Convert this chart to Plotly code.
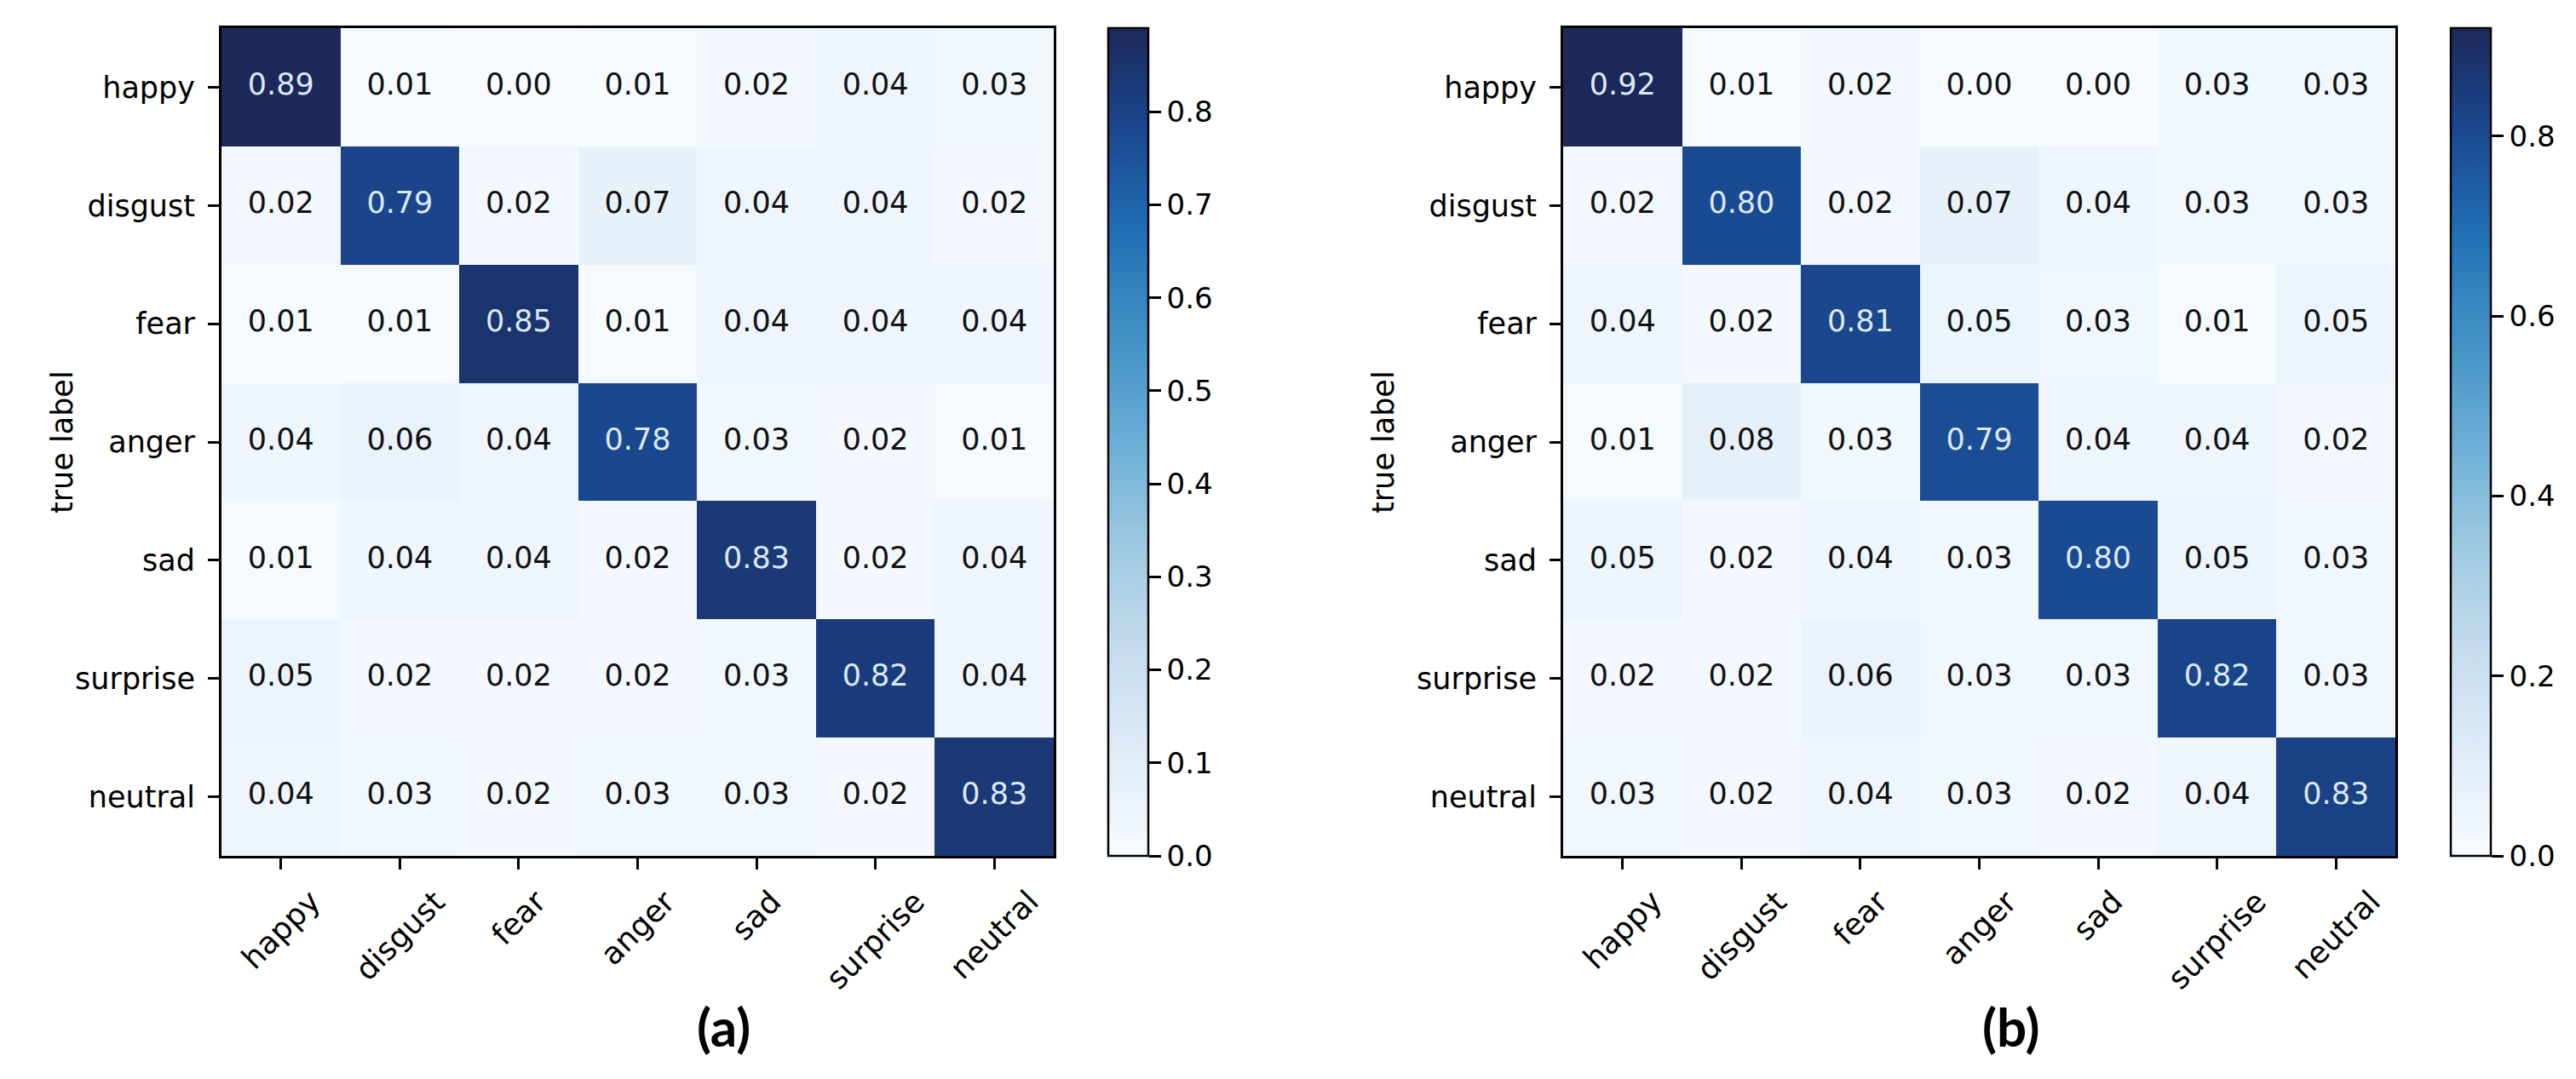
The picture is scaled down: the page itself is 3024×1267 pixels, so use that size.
import plotly.graph_objects as go

labels = ["happy", "disgust", "fear", "anger", "sad", "surprise", "neutral"]

cm_a = [
    [0.89, 0.01, 0.00, 0.01, 0.02, 0.04, 0.03],
    [0.02, 0.79, 0.02, 0.07, 0.04, 0.04, 0.02],
    [0.01, 0.01, 0.85, 0.01, 0.04, 0.04, 0.04],
    [0.04, 0.06, 0.04, 0.78, 0.03, 0.02, 0.01],
    [0.01, 0.04, 0.04, 0.02, 0.83, 0.02, 0.04],
    [0.05, 0.02, 0.02, 0.02, 0.03, 0.82, 0.04],
    [0.04, 0.03, 0.02, 0.03, 0.03, 0.02, 0.83],
]

cm_b = [
    [0.92, 0.01, 0.02, 0.00, 0.00, 0.03, 0.03],
    [0.02, 0.80, 0.02, 0.07, 0.04, 0.03, 0.03],
    [0.04, 0.02, 0.81, 0.05, 0.03, 0.01, 0.05],
    [0.01, 0.08, 0.03, 0.79, 0.04, 0.04, 0.02],
    [0.05, 0.02, 0.04, 0.03, 0.80, 0.05, 0.03],
    [0.02, 0.02, 0.06, 0.03, 0.03, 0.82, 0.03],
    [0.03, 0.02, 0.04, 0.03, 0.02, 0.04, 0.83],
]

panel_labels = ["(a)", "(b)"]
cbar_dticks = [0.1, 0.2]
ylabel = "true label"

W, H = 3024, 1267
FONT = "DejaVu Sans"
FS = 35

blues = [
    [0.0, "#f7fbff"],
    [0.125, "#deebf7"],
    [0.25, "#c6dbef"],
    [0.375, "#9ecae1"],
    [0.5, "#6baed6"],
    [0.625, "#4292c6"],
    [0.75, "#2171b5"],
    [0.875, "#1a4890"],
    [1.0, "#1c285a"],
]

# pixel layout (from top-left)
panels = [
    dict(x0=252, x1=1229, cb=1293, title_x=43, lab_x=808),
    dict(x0=1827, x1=2804, cb=2869, title_x=1616, lab_x=2388),
]
top_px, bot_px = 25, 997
ydom = [1 - bot_px / H, 1 - top_px / H]

fig = go.Figure()
annotations = []
n = len(labels)

for i, (cm, p) in enumerate(zip([cm_a, cm_b], panels)):
    k = "" if i == 0 else str(i + 1)
    xa, ya = "x" + k, "y" + k
    zmax = max(max(r) for r in cm)
    zmin = min(min(r) for r in cm)
    fig.add_trace(go.Heatmap(
        z=cm, x=list(range(n)), y=list(range(n)),
        zmin=zmin, zmax=zmax, colorscale=blues,
        xaxis=xa, yaxis=ya, hoverongaps=False,
        colorbar=dict(
            x=p["cb"] / W, xanchor="left", xpad=0,
            y=ydom[0], yanchor="bottom", ypad=0,
            len=bot_px - top_px, lenmode="pixels",
            thickness=47, thicknessmode="pixels",
            outlinewidth=2.5, outlinecolor="black",
            ticks="outside", ticklen=14, tickwidth=2.5, tickcolor="black",
            tick0=0, dtick=cbar_dticks[i], tickformat=".1f",
            tickfont=dict(family=FONT, size=FS - 1, color="black"),
        ),
    ))
    thresh = (zmax + zmin) / 2
    xs, ys, txt, cols = [], [], [], []
    for r in range(n):
        for c in range(n):
            xs.append(c)
            ys.append(r)
            txt.append(f"{cm[r][c]:.2f}")
            cols.append("#dce9f8" if cm[r][c] > thresh else "#111111")
    fig.add_trace(go.Scatter(
        x=xs, y=ys, mode="text", text=txt,
        textfont=dict(family=FONT, size=FS, color=cols),
        xaxis=xa, yaxis=ya, showlegend=False, hoverinfo="skip",
    ))
    axcommon = dict(
        showline=True, mirror=True, linecolor="black", linewidth=3,
        showgrid=False, zeroline=False, ticks="outside", ticklen=13,
        tickwidth=2.5, tickcolor="black", range=[-0.5, n - 0.5],
        tickvals=list(range(n)),
    )
    fig.layout["xaxis" + k] = dict(
        **axcommon, domain=[p["x0"] / W, p["x1"] / W], anchor=ya,
        ticktext=[""] * n,
    )
    yax = dict(axcommon)
    yax["range"] = [n - 0.5, -0.5]
    fig.layout["yaxis" + k] = dict(
        **yax, domain=ydom, anchor=xa, ticktext=labels,
        tickfont=dict(family=FONT, size=FS, color="black"),
        ticklabelstandoff=8,
    )
    for c, lab in enumerate(labels):
        annotations.append(dict(
            x=c, y=ydom[0], xref=xa, yref="paper", text=lab,
            showarrow=False, textangle=-45, xanchor="center", yanchor="top",
            yshift=-30, font=dict(family=FONT, size=FS + 1, color="black"),
        ))
    annotations.append(dict(
        x=p["title_x"] / W, y=(ydom[0] + ydom[1]) / 2, xref="paper", yref="paper",
        text=ylabel, showarrow=False, textangle=-90,
        font=dict(family=FONT, size=FS, color="black"),
    ))
    annotations.append(dict(
        x=p["lab_x"] / W, y=1 - 1236 / H, xref="paper", yref="paper",
        text="<b>" + panel_labels[i] + "</b>", showarrow=False,
        font=dict(family="Lato", size=62, color="black"),
    ))

fig.update_layout(
    width=W, height=H, margin=dict(l=0, r=0, t=0, b=0),
    paper_bgcolor="white", plot_bgcolor="white",
    showlegend=False, annotations=annotations,
)

fig.write_html("out.html")
